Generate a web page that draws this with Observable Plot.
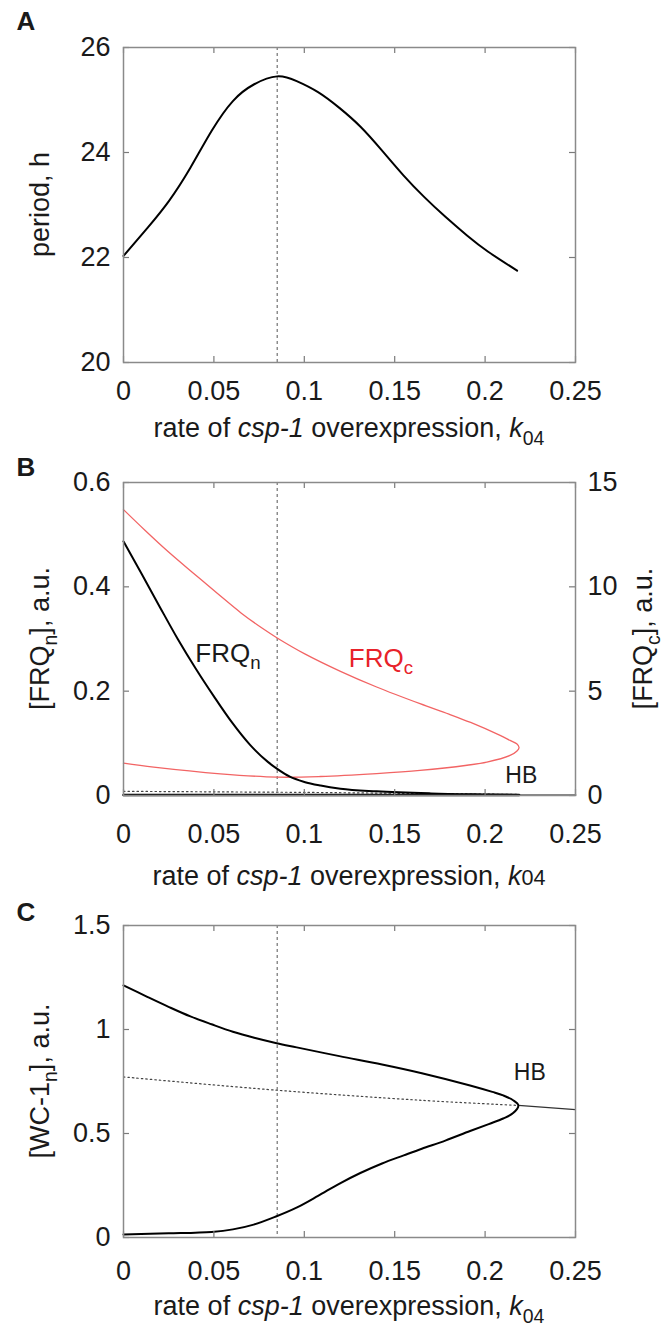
<!DOCTYPE html>
<html><head><meta charset="utf-8">
<script src="https://cdn.jsdelivr.net/npm/d3@7"></script>
<script src="https://cdn.jsdelivr.net/npm/@observablehq/plot@0.6"></script>
<style>
body{margin:0;background:#fff;}
#chart{width:666px;}
svg{display:block;}
</style></head><body><div id="chart"></div>
<script>
const FONT = "'Liberation Sans', Arial, Helvetica, sans-serif";
// shared x axis
const xTicks = [0, 0.05, 0.1, 0.15, 0.2, 0.25];
const kRef = [0.085];

// Panel A: period vs k04
const periodTicks = [20, 22, 24, 26];
const kA = [0, 0.0134, 0.0252, 0.037, 0.0487, 0.0605, 0.0723, 0.085, 0.0958, 0.1076, 0.1194, 0.1311, 0.1429, 0.1547, 0.1664, 0.1782, 0.19, 0.2017, 0.2177];
const periodA = [22.03, 22.57, 23.08, 23.71, 24.41, 24.98, 25.30, 25.45, 25.36, 25.15, 24.85, 24.49, 24.04, 23.57, 23.15, 22.77, 22.42, 22.11, 21.75];

// Panel B: FRQn (left axis) and FRQc (right axis)
const frqnTicks = [0, 0.2, 0.4, 0.6];
const frqcTicks = [0, 5, 10, 15];
const kFrqnMax = [0, 0.01, 0.02, 0.03, 0.04, 0.05, 0.06, 0.07, 0.08, 0.085, 0.092, 0.1, 0.109, 0.12, 0.14, 0.17, 0.2, 0.2188];
const frqnMax  = [0.487, 0.425, 0.362, 0.30, 0.243, 0.19, 0.14, 0.097, 0.064, 0.051, 0.036, 0.026, 0.019, 0.013, 0.008, 0.004, 0.002, 0.001];
const kFrqnMin = [0, 0.2188];
const frqnMin  = [0.001, 0.001];
const kFrqnUnst = [0, 0.1, 0.2188];
const frqnUnst  = [0.008, 0.006, 0.002];
const kFrqnStab = [0.2188, 0.25];
const frqnStab  = [0.001, 0.001];
const kFrqcMax = [0, 0.012, 0.024, 0.038, 0.052, 0.065, 0.077, 0.085, 0.1, 0.12, 0.14, 0.164, 0.18, 0.192, 0.2083, 0.2138, 0.2175, 0.2188];
const frqcMax  = [13.7, 12.7, 11.74, 10.7, 9.68, 8.75, 8.0, 7.55, 6.8, 5.95, 5.2, 4.4, 3.9, 3.5, 2.88, 2.64, 2.48, 2.3];
const kFrqcMin = [0, 0.0167, 0.0536, 0.085, 0.109, 0.14, 0.164, 0.19, 0.201, 0.2138, 0.2175];
const frqcMin  = [1.55, 1.36, 1.04, 0.88, 0.91, 1.05, 1.2, 1.45, 1.6, 1.92, 2.12];

// Panel C: WC-1n
const wcTicks = [0, 0.5, 1, 1.5];
const kWcMax = [0, 0.0134, 0.0252, 0.037, 0.0487, 0.0605, 0.0723, 0.0847, 0.0958, 0.1194, 0.143, 0.165, 0.1917, 0.204, 0.21, 0.2155, 0.2184];
const wcMax  = [1.212, 1.156, 1.108, 1.063, 1.025, 0.989, 0.960, 0.934, 0.914, 0.872, 0.832, 0.790, 0.731, 0.70, 0.683, 0.66, 0.635];
const kWcMin = [0, 0.025, 0.0487, 0.0605, 0.072, 0.084, 0.096, 0.1076, 0.119, 0.131, 0.143, 0.155, 0.165, 0.178, 0.1917, 0.202, 0.21, 0.2155, 0.2184];
const wcMin  = [0.015, 0.02, 0.027, 0.039, 0.062, 0.10, 0.145, 0.2, 0.257, 0.31, 0.356, 0.395, 0.427, 0.466, 0.512, 0.545, 0.572, 0.598, 0.635];
const kWcUnst = [0, 0.085, 0.164, 0.2184];
const wcUnst  = [0.772, 0.708, 0.66, 0.635];
const kWcStab = [0.2184, 0.25];
const wcStab  = [0.635, 0.615];

const zip = (ks, vs) => ks.map((k, i) => ({k, v: vs[i]}));
const frqcRatio = frqcTicks[3] / frqnTicks[3];

const W = 666, ML = 123, MR = 91;
const TICK = "#7a7a7a", FRAME = "#8a8a8a", INK = "#1a1a1a";

function panel({height, mt, mb, yDomain, yTicks, padX, marks, rightFmt}) {
  const innerW = W - ML - MR, innerH = height - mt - mb;
  const tk = {stroke: TICK, strokeWidth: 1.2};
  return Plot.plot({
    width: W, height, marginLeft: ML, marginRight: MR, marginTop: mt, marginBottom: mb,
    style: {fontFamily: FONT, fontSize: "27px", color: INK, background: "#fff", overflow: "visible"},
    x: {domain: [0, 0.25]},
    y: {domain: yDomain},
    marks: [
      ...marks,
      Plot.tickX(xTicks, {x: d => d, insetTop: innerH - 6, ...tk}),
      Plot.tickX(xTicks, {x: d => d, insetBottom: innerH - 6, ...tk}),
      Plot.tickY(yTicks, {y: d => d, insetRight: innerW - 6, ...tk}),
      Plot.tickY(yTicks, {y: d => d, insetLeft: innerW - 6, ...tk}),
      Plot.frame({stroke: FRAME, strokeWidth: 1.5}),
      Plot.axisX(xTicks, {tickSize: 0, tickPadding: padX, tickFormat: d => String(d), label: null}),
      Plot.axisY(yTicks, {tickSize: 0, tickPadding: 13, tickFormat: d => String(d), label: null}),
      ...(rightFmt ? [Plot.axisY(yTicks, {anchor: "right", tickSize: 0, tickPadding: 12, tickFormat: rightFmt, label: null})] : [])
    ]
  });
}

// rich text helper: parts = [[text, {italic, sub, small, fill}]]
function rich(svg, {x, y, rotate = 0, anchor = "middle", size = 27, weight = "normal", fill = INK, parts}) {
  const t = d3.select(svg).append("text")
    .attr("transform", `translate(${x},${y}) rotate(${rotate})`)
    .attr("text-anchor", anchor)
    .attr("font-family", FONT)
    .attr("font-size", size)
    .attr("font-weight", weight)
    .attr("fill", fill);
  let shift = 0;
  for (const [s, o = {}] of parts) {
    const ts = t.append("tspan").text(s);
    if (o.italic) ts.attr("font-style", "italic");
    if (o.fill) ts.attr("fill", o.fill);
    let target = 0;
    if (o.sub) { ts.attr("font-size", size * 0.72); target = size * 0.28; }
    else if (o.small) { ts.attr("font-size", size * 0.8); }
    const dy = target - shift;
    if (dy !== 0) ts.attr("dy", dy);
    shift = target;
  }
  return t;
}

const xTitle = (sub) => [["rate of "], ["csp-1", {italic: true}], [" overexpression, "], ["k", {italic: true}], ["04", sub ? {sub: true} : {small: true}]];
const chart = document.getElementById("chart");

// ---------- Panel A ----------
const hA = 455, mtA = 47, mbA = 93;
const pA = panel({
  height: hA, mt: mtA, mb: mbA, yDomain: [20, 26], yTicks: periodTicks, padX: 18,
  marks: [
    Plot.ruleX(kRef, {stroke: "#555", strokeWidth: 1, strokeDasharray: "3,3"}),
    Plot.line(zip(kA, periodA), {x: "k", y: "v", stroke: "#000", strokeWidth: 2, curve: "natural"})
  ]
});
chart.appendChild(pA);
rich(pA, {x: 26, y: 30, anchor: "middle", size: 26, weight: "bold", parts: [["A"]]});
rich(pA, {x: 349, y: 437, parts: xTitle(true)});
rich(pA, {x: 49, y: (mtA + hA - mbA) / 2, rotate: -90, parts: [["period, h"]]});

// ---------- Panel B ----------
const hB = 435, mtB = 27, mbB = 95;
const pB = panel({
  height: hB, mt: mtB, mb: mbB, yDomain: [0, 0.6], yTicks: frqnTicks, padX: 28,
  rightFmt: d => String(Math.round(d * frqcRatio)),
  marks: [
    Plot.ruleX(kRef, {stroke: "#555", strokeWidth: 1, strokeDasharray: "3,3"}),
    Plot.line(zip(kFrqnUnst, frqnUnst), {x: "k", y: "v", stroke: "#444", strokeWidth: 1.2, strokeDasharray: "1.5,3"}),
    Plot.line(zip(kFrqnStab, frqnStab), {x: "k", y: "v", stroke: "#888", strokeWidth: 2}),
    Plot.line(zip(kFrqnMin, frqnMin), {x: "k", y: "v", stroke: "#000", strokeWidth: 2.5}),
    Plot.line([...zip(kFrqcMax, frqcMax), ...zip(kFrqcMin, frqcMin).reverse()],
      {x: "k", y: d => d.v / frqcRatio, stroke: "#f26464", strokeWidth: 1.3, curve: "catmull-rom"}),
    Plot.line(zip(kFrqnMax, frqnMax), {x: "k", y: "v", stroke: "#000", strokeWidth: 2, curve: "monotone-x"})
  ]
});
chart.appendChild(pB);
{
  const sx = pB.scale("x"), sy = pB.scale("y");
  rich(pB, {x: 26, y: 21, size: 26, weight: "bold", parts: [["B"]]});
  rich(pB, {x: 349, y: 430, parts: xTitle(false)});
  rich(pB, {x: 49, y: (mtB + hB - mbB) / 2, rotate: -90, parts: [["[FRQ"], ["n", {sub: true}], ["], a.u."]]});
  rich(pB, {x: 652, y: (mtB + hB - mbB) / 2, rotate: -90, parts: [["[FRQ"], ["c", {sub: true}], ["], a.u."]]});
  rich(pB, {x: sx.apply(0.04), y: sy.apply(0.272) + 9, anchor: "start", size: 26, parts: [["FRQ"], ["n", {sub: true}]]});
  rich(pB, {x: sx.apply(0.1249), y: sy.apply(0.263) + 9, anchor: "start", size: 26, fill: "#e8222a", parts: [["FRQ"], ["c", {sub: true}]]});
  rich(pB, {x: sx.apply(0.2203), y: sy.apply(0.038) + 8, anchor: "middle", size: 23, parts: [["HB"]]});
}

// ---------- Panel C ----------
const hC = 435, mtC = 35, mbC = 88;
const pC = panel({
  height: hC, mt: mtC, mb: mbC, yDomain: [0, 1.5], yTicks: wcTicks, padX: 23,
  marks: [
    Plot.ruleX(kRef, {stroke: "#555", strokeWidth: 1, strokeDasharray: "3,3"}),
    Plot.line(zip(kWcUnst, wcUnst), {x: "k", y: "v", stroke: "#444", strokeWidth: 1.2, strokeDasharray: "1.5,3", curve: "catmull-rom"}),
    Plot.line(zip(kWcStab, wcStab), {x: "k", y: "v", stroke: "#333", strokeWidth: 1.2}),
    Plot.line([...zip(kWcMax, wcMax), ...zip(kWcMin, wcMin).reverse().slice(1)],
      {x: "k", y: "v", stroke: "#000", strokeWidth: 2, curve: "catmull-rom"})
  ]
});
chart.appendChild(pC);
{
  const sx = pC.scale("x"), sy = pC.scale("y");
  rich(pC, {x: 26, y: 31, size: 26, weight: "bold", parts: [["C"]]});
  rich(pC, {x: 349, y: 425, parts: xTitle(true)});
  rich(pC, {x: 49, y: (mtC + hC - mbC) / 2, rotate: -90, parts: [["[WC-1"], ["n", {sub: true}], ["], a.u."]]});
  rich(pC, {x: sx.apply(0.225), y: sy.apply(0.795) + 8, anchor: "middle", size: 23, parts: [["HB"]]});
}
</script></body></html>
